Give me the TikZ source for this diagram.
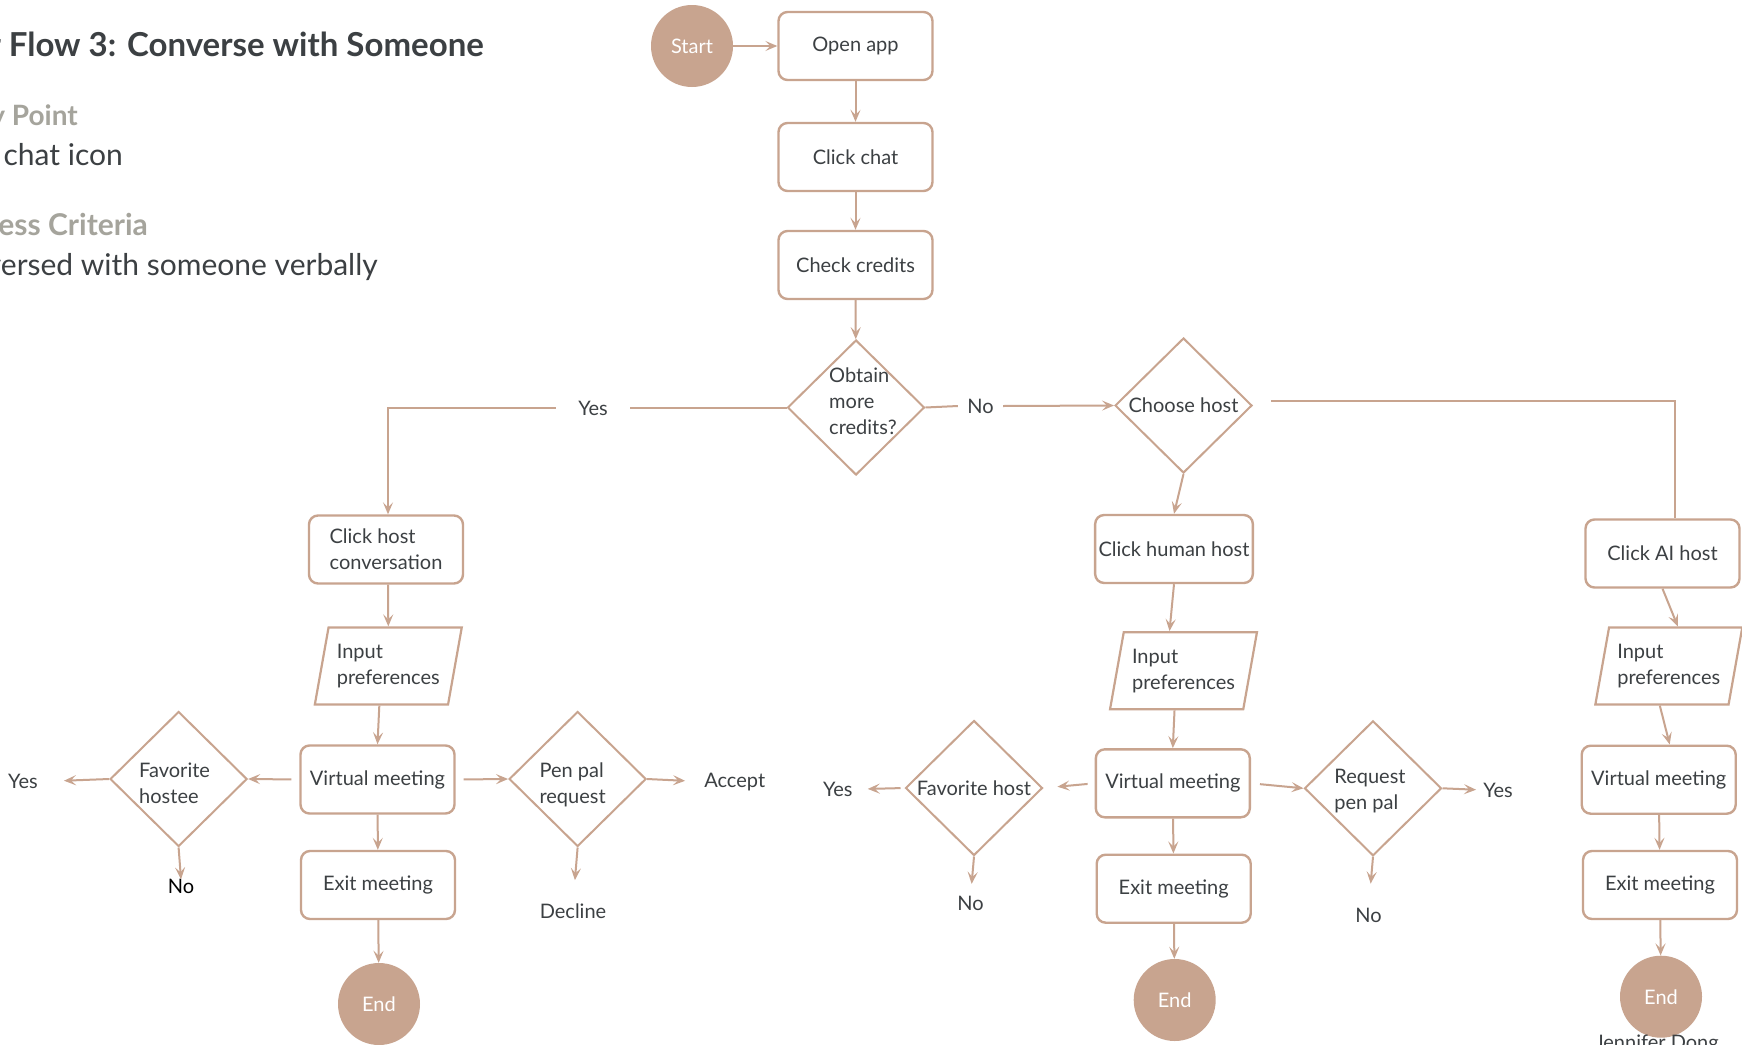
\documentclass[tikz,border=0pt]{standalone}
\usepackage{fontspec}
\setmainfont{Lato}
\usetikzlibrary{shapes.geometric,arrows.meta}
\definecolor{clay}{HTML}{C8A48F}
\definecolor{ink}{HTML}{3C4043}
\definecolor{mist}{HTML}{A5A49C}
\newcommand{\flowfont}{\fontsize{20}{26}\selectfont}

\begin{document}
\begin{tikzpicture}[x=1pt,y=-1pt,
		box/.style={draw=clay, line width=2.4pt, rounded corners=9pt, minimum width=154pt, minimum height=68pt, text=ink, font=\flowfont, align=center},
		dec/.style={draw=clay, line width=2pt, diamond, minimum width=137pt, minimum height=135pt, inner sep=0pt},
		inbox/.style={draw=clay, line width=2.2pt, trapezium, trapezium left angle=76, trapezium right angle=104, trapezium stretches, minimum width=147pt, minimum height=77pt, text=ink, font=\flowfont, align=left},
		term/.style={circle, fill=clay, minimum size=82pt, inner sep=0pt, text=white, font=\flowfont},
		txt/.style={text=ink, font=\flowfont, align=left, inner sep=0pt},
		flow/.style={draw=clay, line width=2pt, -{Stealth[length=12pt,width=10pt,inset=5pt]}},
		link/.style={draw=clay, line width=2pt}]
	\useasboundingbox (0,0) rectangle (1742,1044);
	\clip (0,0) rectangle (1742,1044);
	\fill[white] (0,0) rectangle (1742,1044);

	\node[anchor=base east, inner sep=0pt, text=ink, font=\bfseries\fontsize{33}{38}\selectfont] (title) at (484,56) {User Flow 3: Converse with Someone};
	\node[anchor=base east, inner sep=0pt, text=mist, font=\bfseries\fontsize{28}{34}\selectfont] (entry) at (78,125) {Entry Point};
	\node[anchor=base east, inner sep=0pt, text=ink, font=\fontsize{30}{36}\selectfont] (entrytxt) at (123,165) {Click chat icon};
	\node[anchor=base east, inner sep=0pt, text=mist, font=\bfseries\fontsize{30}{34}\selectfont] (success) at (148,235) {Success Criteria};
	\node[anchor=base east, inner sep=0pt, text=ink, font=\fontsize{30}{36}\selectfont] (successtxt) at (378,275) {Conversed with someone verbally};

	\node[term] (start) at (692,46) {Start};
	\node[box] (open) at (855.5,46) {Open app};
	\node[box] (chat) at (855.5,157) {Click chat};
	\node[box] (credits) at (855.5,265) {Check credits};
	\node[dec, label={[txt, xshift=7pt, yshift=6pt]center:Obtain\\more\\credits?}] (obtain) at (856,407.5) {};
	\node[txt, minimum width=74pt] (yesC) at (593,408) {Yes};
	\node[txt, minimum width=45pt] (noC) at (980.5,406) {No};
	\node[dec, label={[txt]center:Choose host}] (chooseH) at (1183.5,405.5) {};

	\node[box, align=left] (clickhost) at (386,549.5) {Click host\\conversation};
	\node[inbox] (inL) at (388.3,666) {Input\\preferences};
	\node[box] (vmL) at (377.5,779.5) {Virtual meeting};
	\node[box] (exitL) at (378,885) {Exit meeting};
	\node[term] (endL) at (379,1004) {End};
	\node[dec, label={[txt, xshift=-4pt, yshift=-4pt]center:Favorite\\hostee}] (favL) at (178.6,779) {};
	\node[dec, label={[txt, xshift=-5pt, yshift=-6pt]center:Pen pal\\request}] (penL) at (577.6,779) {};
	\node[txt] (yesFL) at (23,781.7) {Yes};
	\node[txt, text=black] (noFL) at (181,886.7) {No};
	\node[txt] (acceptL) at (734.7,781.7) {Accept};
	\node[txt] (declineL) at (573,910.7) {Decline};

	\node[box] (humanH) at (1174,549) {Click human host};
	\node[inbox] (inM) at (1183.5,670.7) {Input\\preferences};
	\node[box] (vmM) at (1172.8,783.3) {Virtual meeting};
	\node[box] (exitM) at (1173.7,888.7) {Exit meeting};
	\node[term] (endM) at (1174.7,1000) {End};
	\node[dec, label={[txt]center:Favorite host}] (favM) at (974,788) {};
	\node[dec, label={[txt, xshift=-3pt, yshift=-3pt]center:Request\\pen pal}] (reqM) at (1373,788.3) {};
	\node[txt] (yesFM) at (837.8,789.3) {Yes};
	\node[txt] (noFM) at (970.6,903.3) {No};
	\node[txt] (yesRM) at (1498,790) {Yes};
	\node[txt] (noRM) at (1368.6,915) {No};

	\node[box] (aihost) at (1662.5,553.5) {Click AI host};
	\node[inbox] (inR) at (1668.8,666) {Input\\preferences};
	\node[box] (vmR) at (1658.7,779.7) {Virtual meeting};
	\node[box] (exitR) at (1660,885) {Exit meeting};
	\node[term] (endR) at (1661,996.7) {End};
	\node[txt, anchor=north] (author) at (1657,1035) {Jennifer Dong};

	\draw[flow] (start) -- (open);
	\draw[flow] (open) -- (chat);
	\draw[flow] (chat) -- (credits);
	\draw[flow] (credits) -- (obtain);
	\draw[link] (obtain.west) -- (yesC.east |- obtain.west);
	\draw[flow] (yesC.west) -| ([xshift=2pt]clickhost.north);
	\draw[link] (obtain.east) -- (noC.west);
	\draw[flow] (noC.east) -- (chooseH.west);
	\draw[link] ([xshift=18pt,yshift=5pt]chooseH.east) -| ([xshift=12pt]aihost.north);

	\draw[flow] ([xshift=2pt]clickhost.south) -- (inL.north);
	\draw[flow] ([xshift=-9pt]inL.south) -- (vmL.north);
	\draw[flow] (vmL) -- (exitL);
	\draw[flow] (exitL) -- (endL);
	\draw[flow, shorten <=8pt] (vmL.west) -- (favL.east);
	\draw[flow, shorten >=26pt] (favL.west) -- (yesFL.east);
	\draw[flow] (favL.south) -- (noFL.north);
	\draw[flow, shorten <=8pt] (vmL.east) -- (penL.west);
	\draw[flow, shorten >=19pt] (penL.east) -- (acceptL.west);
	\draw[flow, shorten >=23pt] (penL.south) -- (declineL.north);

	\draw[flow] (chooseH.south) -- (humanH.north);
	\draw[flow] (humanH.south) -- ([xshift=-14pt]inM.north);
	\draw[flow] ([xshift=-9pt]inM.south) -- (vmM.north);
	\draw[flow] (vmM) -- (exitM);
	\draw[flow] (exitM) -- (endM);
	\draw[flow, shorten <=7pt, shorten >=14pt] (vmM.west) -- (favM.east);
	\draw[flow, shorten <=4pt, shorten >=15pt] (favM.west) -- (yesFM.east);
	\draw[flow, shorten >=12pt] (favM.south) -- (noFM.north);
	\draw[flow, shorten <=9pt] (vmM.east) -- (reqM.west);
	\draw[flow, shorten >=7pt] (reqM.east) -- (yesRM.west);
	\draw[flow, shorten >=24pt] (reqM.south) -- (noRM.north);

	\draw[flow] (aihost.south) -- ([xshift=9pt]inR.north);
	\draw[flow] ([xshift=-9pt]inR.south) -- ([xshift=11pt]vmR.north);
	\draw[flow] (vmR) -- (exitR);
	\draw[flow] (exitR) -- (endR);
\end{tikzpicture}
\end{document}
